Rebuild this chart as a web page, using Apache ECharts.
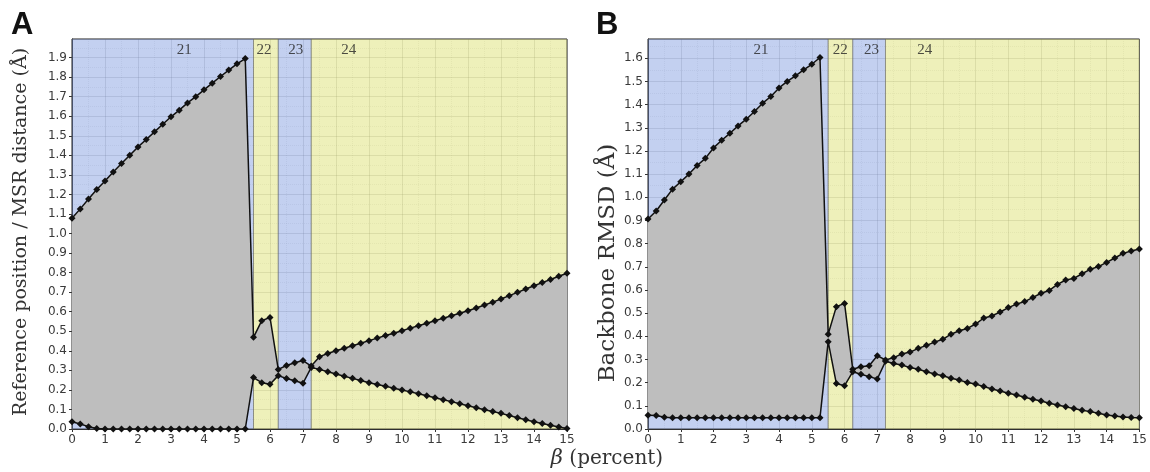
<!DOCTYPE html>
<html>
<head>
<meta charset="utf-8">
<script src="https://cdn.jsdelivr.net/npm/echarts@6/dist/echarts.min.js"></script>
<style>html,body{margin:0;padding:0;background:#fff}#c{width:1150px;height:472px}</style>
</head>
<body>
<div id="c"></div>
<script>
// ---- data ----
const betaX = [0,0.25,0.5,0.75,1,1.25,1.5,1.75,2,2.25,2.5,2.75,3,3.25,3.5,3.75,4,4.25,4.5,4.75,5,5.25,
  5.5,5.75,6,6.25,6.5,6.75,7,7.25,
  7.5,7.75,8,8.25,8.5,8.75,9,9.25,9.5,9.75,10,10.25,10.5,10.75,11,11.25,11.5,11.75,12,12.25,12.5,12.75,13,13.25,13.5,13.75,14,14.25,14.5,14.75,15];

const refUpper = [1.078,1.126,1.177,1.225,1.269,1.315,1.358,1.400,1.443,1.481,1.520,1.559,1.597,1.631,1.668,1.700,1.735,1.769,1.803,1.836,1.868,1.895,
  0.469,0.554,0.571,0.305,0.325,0.339,0.350,0.322,
  0.370,0.386,0.400,0.413,0.426,0.439,0.452,0.465,0.478,0.490,0.503,0.516,0.528,0.541,0.554,0.567,0.579,0.592,0.605,0.619,0.634,0.649,0.665,0.682,0.699,0.716,0.733,0.749,0.765,0.781,0.797];
const refLower = [0.037,0.026,0.012,0.003,0,0,0,0,0,0,0,0,0,0,0,0,0,0,0,0,0,0,
  0.263,0.237,0.229,0.273,0.258,0.247,0.234,0.315,
  0.305,0.293,0.281,0.270,0.259,0.248,0.237,0.228,0.219,0.209,0.200,0.190,0.180,0.170,0.160,0.150,0.140,0.129,0.119,0.109,0.099,0.090,0.080,0.069,0.058,0.047,0.037,0.028,0.019,0.010,0.003];

const rmsdUpper = [0.906,0.941,0.988,1.035,1.067,1.100,1.137,1.168,1.213,1.246,1.276,1.308,1.337,1.370,1.406,1.435,1.472,1.500,1.524,1.550,1.574,1.603,
  0.409,0.528,0.542,0.258,0.269,0.273,0.316,0.298,
  0.308,0.324,0.332,0.348,0.361,0.375,0.387,0.409,0.424,0.434,0.453,0.479,0.488,0.505,0.524,0.539,0.550,0.568,0.586,0.598,0.624,0.643,0.650,0.670,0.689,0.701,0.719,0.738,0.758,0.768,0.777];
const rmsdLower = [0.059,0.058,0.051,0.049,0.049,0.049,0.049,0.049,0.049,0.049,0.049,0.049,0.049,0.049,0.049,0.049,0.049,0.049,0.049,0.049,0.049,0.049,
  0.377,0.196,0.187,0.247,0.236,0.226,0.216,0.292,
  0.283,0.276,0.265,0.258,0.247,0.237,0.230,0.219,0.211,0.201,0.194,0.183,0.173,0.164,0.154,0.147,0.137,0.128,0.121,0.111,0.104,0.096,0.088,0.081,0.075,0.068,0.060,0.056,0.052,0.050,0.049];

const regionBounds = [0, 5.5, 6.25, 7.25, 15];
const regionNames = ['21', '22', '23', '24'];
const regionKinds = ['blue', 'yellow', 'blue', 'yellow'];

const panelLetters = ['A', 'B'];
const yTitles = ['Reference position / MSR distance (Å)', 'Backbone RMSD (Å)'];
const xTitle = '(percent)';

// ---- chart ----
const chart = echarts.init(document.getElementById('c'));
const SERIF = '"DejaVu Serif", "Liberation Serif", serif';
const SANS = '"DejaVu Sans", sans-serif';
const bandColor = { blue: 'rgba(105,138,218,0.40)', yellow: 'rgba(212,218,83,0.40)' };

const panels = [
  { upper: refUpper, lower: refLower, yMax: 1.995, left: 72, labelX: [3.4, 5.82, 6.78, 8.39] },
  { upper: rmsdUpper, lower: rmsdLower, yMax: 1.683, left: 648, labelX: [3.45, 5.87, 6.82, 8.45] }
];

const grids = [], xAxes = [], yAxes = [], series = [];
panels.forEach((p, i) => {
  grids.push({ left: p.left, top: 39, width: 495, height: 390, show: true, borderColor: '#3a3a3a', borderWidth: 1, backgroundColor: 'transparent' });
  xAxes.push({
    gridIndex: i, type: 'value', min: 0, max: 15, interval: 1,
    axisLine: { show: true, onZero: false, lineStyle: { color: '#222', width: 1 } },
    axisTick: { show: true, length: 3, lineStyle: { color: '#333' } },
    axisLabel: { color: '#3a3a3a', fontFamily: SANS, fontSize: 12, margin: 5 },
    splitLine: { show: true, lineStyle: { color: 'rgba(110,110,110,0.22)', width: 1 } },
    minorTick: { show: false, splitNumber: 2 },
    minorSplitLine: { show: true, lineStyle: { color: 'rgba(120,120,120,0.13)', type: 'dotted', width: 1 } }
  });
  yAxes.push({
    gridIndex: i, type: 'value', min: 0, max: p.yMax, interval: 0.1,
    axisLine: { show: true, onZero: false, lineStyle: { color: '#222', width: 1 } },
    axisTick: { show: true, length: 3, lineStyle: { color: '#333' } },
    axisLabel: { color: '#3a3a3a', fontFamily: SANS, fontSize: 12, margin: 5, showMaxLabel: false,
      formatter: v => v.toFixed(1) },
    splitLine: { show: true, lineStyle: { color: 'rgba(110,110,110,0.22)', width: 1 } },
    minorTick: { show: false, splitNumber: 2 },
    minorSplitLine: { show: true, lineStyle: { color: 'rgba(120,120,120,0.13)', type: 'dotted', width: 1 } }
  });
  // band (gray fill between the two curves) drawn through the axis scales
  const upperArr = p.upper, lowerArr = p.lower;
  series.push({
    type: 'custom', xAxisIndex: i, yAxisIndex: i, z: 3, silent: true, clip: true,
    data: betaX.map((x, k) => [x, upperArr[k], lowerArr[k]]),
    encode: { x: 0, y: [1, 2] },
    markArea: {
      silent: true,
      data: regionNames.map((n, r) => [
        { xAxis: regionBounds[r], itemStyle: { color: bandColor[regionKinds[r]], borderColor: 'rgba(100,100,100,0.45)', borderWidth: 1 } },
        { xAxis: regionBounds[r + 1] }
      ])
    },
    renderItem: (params, api) => {
      if (params.dataIndex !== 0) return null;
      const top = betaX.map((x, k) => api.coord([x, upperArr[k]]));
      const bot = betaX.map((x, k) => api.coord([x, lowerArr[k]])).reverse();
      return { type: 'polygon', shape: { points: top.concat(bot) }, style: { fill: '#bebebe', stroke: null } };
    }
  });
  [p.upper, p.lower].forEach(arr => {
    series.push({
      type: 'line', xAxisIndex: i, yAxisIndex: i, z: 5,
      data: betaX.map((x, k) => [x, arr[k]]),
      symbol: 'diamond', symbolSize: 7, showSymbol: true,
      lineStyle: { color: '#111', width: 1.5 }, itemStyle: { color: '#111' }
    });
  });
  series.push({
    type: 'scatter', xAxisIndex: i, yAxisIndex: i, z: 6, symbolSize: 0, silent: true,
    data: regionNames.map((n, r) => ({ value: [p.labelX[r], p.yMax], name: n })),
    label: { show: true, position: 'bottom', distance: 4, formatter: d => d.name,
      fontFamily: '"Liberation Serif", serif', fontSize: 15, color: '#222' }
  });
});

const graphic = [
  { type: 'text', left: 11, top: 10, style: { text: panelLetters[0], font: 'bold 31px "Liberation Sans", Arial, sans-serif', fill: '#111' } },
  { type: 'text', left: 596, top: 10, style: { text: panelLetters[1], font: 'bold 31px "Liberation Sans", Arial, sans-serif', fill: '#111' } },
  { type: 'text', x: 21, y: 232, rotation: Math.PI / 2,
    style: { text: yTitles[0], font: '19px ' + SERIF, fill: '#333', align: 'center', verticalAlign: 'middle' } },
  { type: 'text', x: 608, y: 263, rotation: Math.PI / 2,
    style: { text: yTitles[1], font: '23px ' + SERIF, fill: '#333', align: 'center', verticalAlign: 'middle' } },
  { type: 'text', x: 607, y: 459,
    style: { text: '{b|β} ' + xTitle, font: '20px ' + SERIF, fill: '#333', align: 'center', verticalAlign: 'middle',
      rich: { b: { fontFamily: SERIF, fontStyle: 'italic', fontSize: 21, fill: '#333' } } } }
];

chart.setOption({
  animation: false,
  backgroundColor: '#fff',
  grid: grids, xAxis: xAxes, yAxis: yAxes, series: series, graphic: graphic
});
</script>
</body>
</html>
